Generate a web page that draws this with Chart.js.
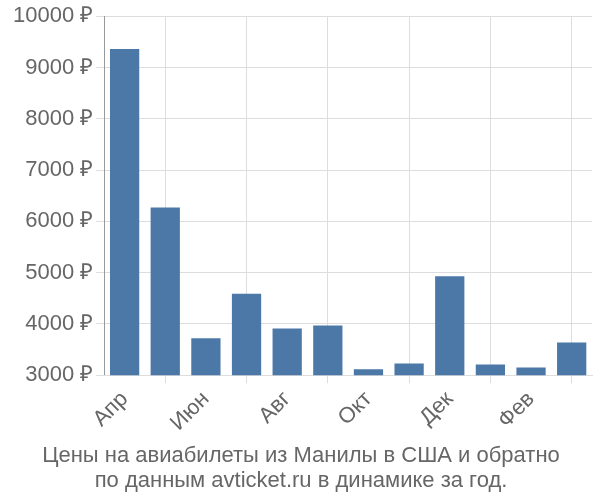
<!DOCTYPE html>
<html>
<head>
<meta charset="utf-8">
<script src="https://cdn.jsdelivr.net/npm/chart.js@4"></script>
<style>
  body { margin: 0; background: #fff; }
  #wrap { width: 600px; height: 500px; }
</style>
</head>
<body>
<div id="wrap"><canvas id="chart"></canvas></div>
<script>
const months = ['Апр', 'Май', 'Июн', 'Июл', 'Авг', 'Сен', 'Окт', 'Ноя', 'Дек', 'Янв', 'Фев', 'Мар'];
const prices = [9360, 6270, 3720, 4590, 3910, 3970, 3120, 3230, 4930, 3210, 3150, 3640];
const titleLines = ['Цены на авиабилеты из Манилы в США и обратно', 'по данным avticket.ru в динамике за год.'];

Chart.defaults.font.family = '"Liberation Sans", Arial, sans-serif';
Chart.defaults.color = '#666';

new Chart(document.getElementById('chart'), {
    type: 'bar',
    data: {
        labels: months,
        datasets: [{
            data: prices,
            backgroundColor: '#4c78a8',
            categoryPercentage: 0.72,
            barPercentage: 1
        }]
    },
    options: {
        responsive: true,
        maintainAspectRatio: false,
        animation: false,
        layout: { padding: { left: 10, right: 8, top: 4 } },
        plugins: {
            legend: { display: false },
            tooltip: { enabled: false },
            title: {
                display: true,
                position: 'bottom',
                text: titleLines,
                color: '#666',
                font: { size: 22, weight: 'normal', lineHeight: 1.15 },
                padding: { top: 4, bottom: 6 }
            }
        },
        scales: {
            y: {
                min: 3000,
                max: 10000,
                ticks: {
                    stepSize: 1000,
                    font: { size: 22 },
                    callback: v => v + ' ₽'
                },
                grid: { color: '#ddd', tickLength: 8 },
                border: { color: '#999' }
            },
            x: {
                ticks: {
                    font: { size: 22 },
                    maxRotation: 45,
                    minRotation: 45
                },
                grid: { color: '#ddd', offset: true },
                border: { color: '#ddd' }
            }
        }
    }
});
</script>
</body>
</html>
